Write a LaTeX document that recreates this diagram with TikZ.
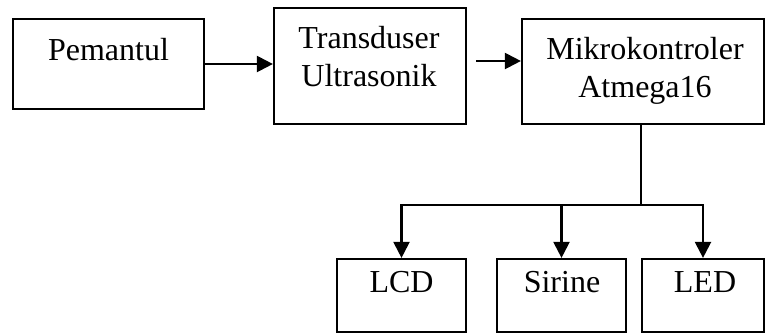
\documentclass[tikz,border=0pt]{standalone}
\usepackage{fontspec}
\setmainfont{Liberation Serif}
\usetikzlibrary{arrows.meta}
\begin{document}
\begin{tikzpicture}[x=1pt,y=-1pt,
  blk/.style={draw=black,line width=2.2pt,rectangle,inner sep=0pt},
  lbl/.style={anchor=base,inner sep=0pt,font=\fontsize{32}{38}\selectfont},
  conn/.style={line width=2.2pt,-{Triangle[length=16pt,width=16pt]}}]
\useasboundingbox (0,0) rectangle (765,333);
% boxes
\node[blk,minimum width=191pt,minimum height=90pt] (pem) at (108.5,64) {};
\node[blk,minimum width=192pt,minimum height=116pt] (tra) at (370,66) {};
\node[blk,minimum width=242pt,minimum height=105pt] (mik) at (643,71.5) {};
\node[blk,minimum width=129pt,minimum height=73pt] (lcd) at (401.5,295.5) {};
\node[blk,minimum width=129pt,minimum height=73pt] (sir) at (561.5,295.5) {};
\node[blk,minimum width=122pt,minimum height=73pt] (led) at (703,295.5) {};
% texts
\node[lbl] (pemt) at (108.5,60) {Pemantul};
\node[lbl] (trat1) at (369,48) {Transduser};
\node[lbl] (trat2) at (369,86) {Ultrasonik};
\node[lbl] (mikt1) at (645,59) {Mikrokontroler};
\node[lbl] (mikt2) at (645,97) {Atmega16};
\node[lbl] (lcdt) at (401.5,292) {LCD};
\node[lbl] (sirt) at (562,292) {Sirine};
\node[lbl] (ledt) at (705,292) {LED};
% connectors
\coordinate (bus) at (641,205);
\coordinate (tstart) at (476,61);
\draw[conn] (pem.east) -- (tra.west |- pem.east);
\draw[conn] (tstart) -- (mik.west |- tstart);
\draw[line width=2.2pt] (mik.south -| bus) -- (bus);
\draw[line width=2.2pt,line cap=rect] (lcd.north |- bus) -- (led.north |- bus);
\draw[conn] (lcd.north |- bus) -- (lcd.north);
\draw[conn] (sir.north |- bus) -- (sir.north);
\draw[conn] (led.north |- bus) -- (led.north);
\end{tikzpicture}
\end{document}
